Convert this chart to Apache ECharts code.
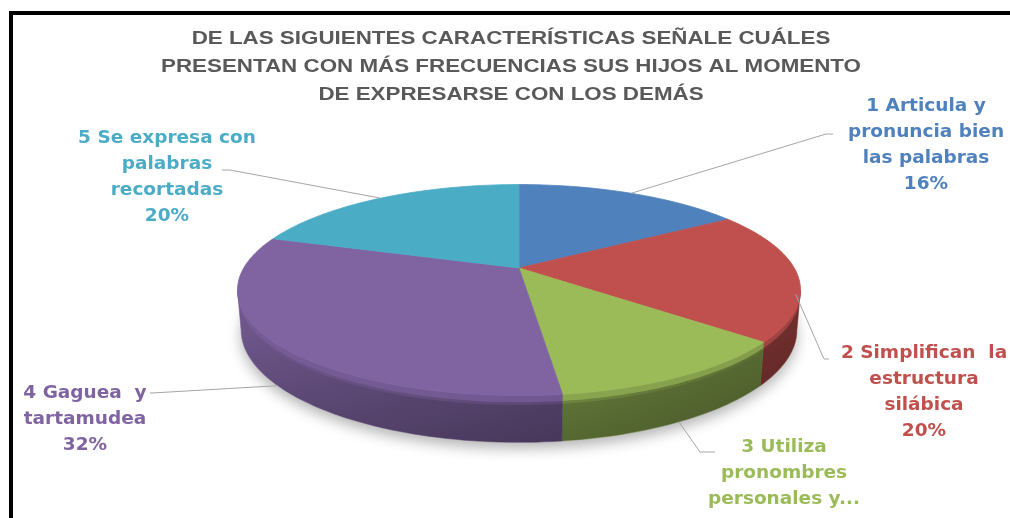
<!DOCTYPE html>
<html>
<head>
<meta charset="utf-8">
<script src="https://cdn.jsdelivr.net/npm/echarts@6/dist/echarts.min.js"></script>
<style>
  html, body { margin: 0; padding: 0; background: #fff; }
  #chart { width: 1010px; height: 518px; }
</style>
</head>
<body>
<div id="chart"></div>
<script>
// datos del gráfico
const titleLines = [
  'DE LAS SIGUIENTES CARACTERÍSTICAS SEÑALE CUÁLES',
  'PRESENTAN CON MÁS FRECUENCIAS SUS HIJOS AL MOMENTO',
  'DE EXPRESARSE CON LOS DEMÁS'
];
const categories = [
  '1 Articula y\npronuncia bien\nlas palabras',
  '2 Simplifican  la\nestructura\nsilábica',
  '3 Utiliza\npronombres\npersonales y...',
  '4 Gaguea  y\ntartamudea',
  '5 Se expresa con\npalabras\nrecortadas'
];
const values = [16, 20, 12, 32, 20];
const colors = ['#4f81bd', '#c0504d', '#9bbb59', '#8064a2', '#4bacc6'];

// posición de etiquetas (centro x, centro de la 1a línea) y líneas guía
const labelLayout = [
  { x: 926, y: 106, anchor: 0,   elbow: [826, 134], end: [833, 134] },
  { x: 924, y: 353, anchor: 0.5, elbow: [824, 359], end: [829, 359] },
  { x: 784, y: 447, anchor: 1,   elbow: [700, 452], end: [715, 452] },
  { x: 85,  y: 393, anchor: 1,   elbow: [152, 393], end: [150, 393] },
  { x: 167, y: 138, anchor: 0,   elbow: [230, 170], end: [222, 170] }
];

// cámara para la tarta 3D
const view = { cx: 519, cy: 268, f: 1225, dist: 4.45, elev: 21.5, depth: 0.153 };
const E = view.elev * Math.PI / 180;
const total = values.reduce((a, b) => a + b, 0);
const starts = [];
values.reduce((acc, v, i) => { starts[i] = acc; return acc + v; }, 0);

function project(theta, h) {
  const t = theta * Math.PI / 180;
  const x = Math.sin(t), z = -Math.cos(t);
  const sy = z * Math.sin(E) - h * Math.cos(E);
  const d = view.dist - z * Math.cos(E) - h * Math.sin(E);
  return [view.cx + view.f * x / d, view.cy + view.f * sy / d];
}
function arc(a0, a1, h) {
  const pts = [];
  const n = Math.max(2, Math.ceil((a1 - a0) / 1.5));
  for (let k = 0; k <= n; k++) pts.push(project(a0 + (a1 - a0) * k / n, h));
  return pts;
}
function band(a0, a1, h0, h1) {
  return arc(a0, a1, h0).concat(arc(a0, a1, h1).reverse());
}
function shade(hex, amt) {
  const n = parseInt(hex.slice(1), 16);
  let r = n >> 16, g = (n >> 8) & 255, b = n & 255;
  const t = amt < 0 ? 255 : 0, a = Math.abs(amt);
  r = Math.round(r + (t - r) * a); g = Math.round(g + (t - g) * a); b = Math.round(b + (t - b) * a);
  return 'rgb(' + r + ',' + g + ',' + b + ')';
}

// parte visible de la pared
const wallFrom = Math.acos(-Math.cos(E) / view.dist) * 180 / Math.PI;
const wallTo = 360 - wallFrom;
const leftX = project(wallTo, 0)[0], rightX = project(wallFrom, 0)[0];

const measureCtx = document.createElement('canvas').getContext('2d');
function textWidth(str, font) { measureCtx.font = font; return measureCtx.measureText(str).width; }
const titleFont = 'bold 19px "Liberation Sans Narrow", "Liberation Sans", sans-serif';
const titleScale = 700 / textWidth(titleLines[1], titleFont);
const labelFont = 'bold 18.5px "DejaVu Sans", Verdana, sans-serif';
const lineH = 26;

function renderItem(params, api) {
  const i = params.dataIndex;
  const a0 = api.value(1) / total * 360;
  const a1 = (api.value(1) + api.value(0)) / total * 360;
  const children = [];

  if (i === 0) {
    children.push({
      type: 'polygon', z2: 0,
      shape: { points: arc(0, 360, -view.depth) },
      style: { fill: '#fff', shadowBlur: 14, shadowOffsetY: 6, shadowColor: 'rgba(0,0,0,0.3)' }
    });
  }

  // pared
  const s = Math.max(a0, wallFrom), e = Math.min(a1, wallTo);
  if (e > s) {
    const side = new echarts.graphic.LinearGradient(leftX, 0, rightX, 0, [
      { offset: 0, color: shade(colors[i], 0.14) },
      { offset: 0.5, color: shade(colors[i], 0.27) },
      { offset: 1, color: shade(colors[i], 0.44) }
    ], true);
    children.push({
      type: 'polygon', z2: 1,
      shape: { points: band(s, e, 0, -view.depth) },
      style: { fill: side, stroke: side, lineWidth: 0.6 }
    });
    const dark = new echarts.graphic.LinearGradient(0, 330, 0, 446, [
      { offset: 0, color: 'rgba(0,0,0,0)' },
      { offset: 1, color: 'rgba(0,0,0,0.22)' }
    ], true);
    children.push({
      type: 'polygon', z2: 2,
      shape: { points: band(s, e, -view.depth * 0.2, -view.depth) },
      style: { fill: dark }
    });
    children.push({
      type: 'polygon', z2: 3,
      shape: { points: band(s, e, 0, -view.depth * 0.14) },
      style: { fill: shade(colors[i], 0.04), opacity: 0.7 }
    });
  }

  // cara superior
  children.push({
    type: 'polygon', z2: 5,
    shape: { points: [[view.cx, view.cy]].concat(arc(a0, a1, 0)) },
    style: { fill: colors[i], stroke: colors[i], lineWidth: 0.8 }
  });

  // línea guía y etiqueta
  const lay = labelLayout[i];
  const mid = (a0 + a1) / 2;
  children.push({
    type: 'polyline', z2: 8,
    shape: { points: [project(mid, -view.depth * lay.anchor), lay.elbow, lay.end] },
    style: { stroke: '#a6a6a6', lineWidth: 1, fill: null }
  });
  // la etiqueta recortada ("...") no muestra el porcentaje
  const cut = categories[i].endsWith('...');
  const pct = Math.round(api.value(0) / total * 100) + '%';
  children.push({
    type: 'text', z2: 9,
    style: {
      text: cut ? categories[i] : categories[i] + '\n' + pct,
      x: lay.x, y: lay.y - lineH / 2,
      align: 'center', verticalAlign: 'top',
      font: labelFont, lineHeight: lineH,
      fill: colors[i]
    }
  });
  return { type: 'group', children: children };
}

const chart = echarts.init(document.getElementById('chart'));
chart.setOption({
  animation: false,
  backgroundColor: '#fff',
  graphic: [
    ...titleLines.map((t, k) => ({
      type: 'text', x: 511, y: 39 + k * 28, scaleX: titleScale, z: 10,
      style: { text: t, align: 'center', verticalAlign: 'middle', font: titleFont, fill: '#595959' }
    })),
    {
      type: 'rect', z: 20,
      shape: { x: 11, y: 13, width: 1010, height: 520 },
      style: { fill: 'none', stroke: '#000', lineWidth: 4 }
    }
  ],
  series: [{
    type: 'custom',
    coordinateSystem: 'none',
    silent: true,
    renderItem: renderItem,
    data: values.map((v, i) => [v, starts[i]])
  }]
});
</script>
</body>
</html>
